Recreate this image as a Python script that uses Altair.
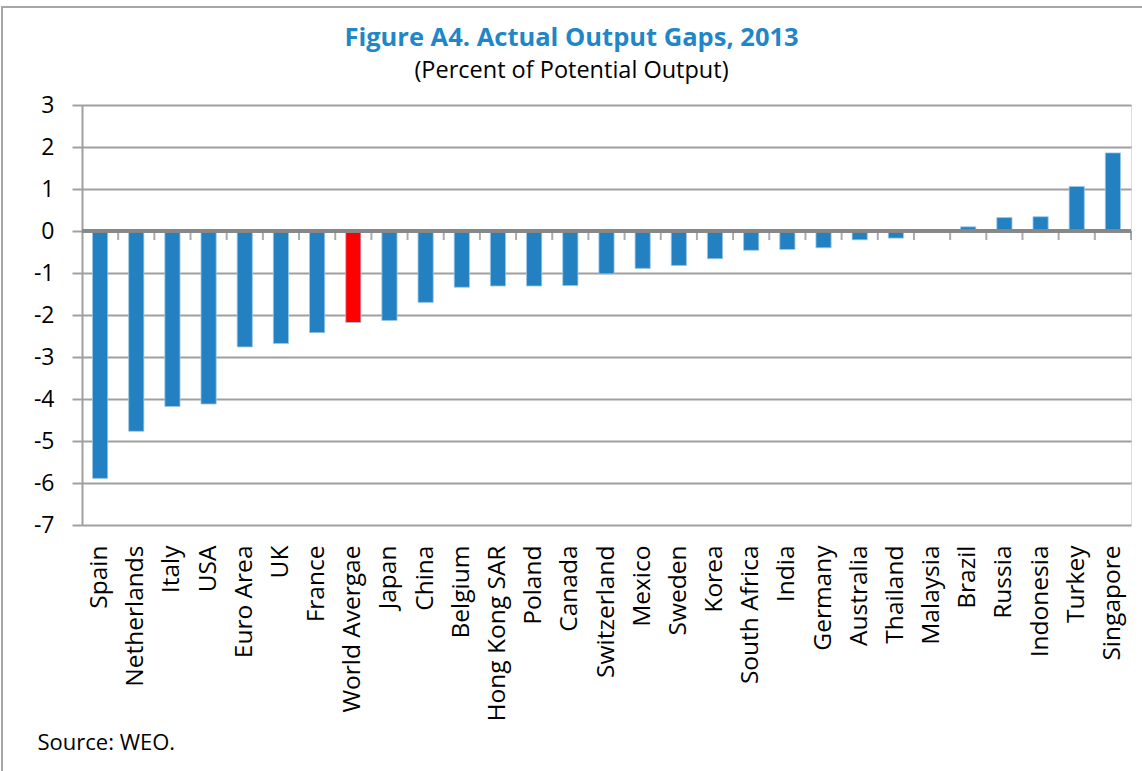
import altair as alt
import pandas as pd

countries = ["Spain", "Netherlands", "Italy", "USA", "Euro Area", "UK", "France",
             "World Avergae", "Japan", "China", "Belgium", "Hong Kong SAR", "Poland",
             "Canada", "Switzerland", "Mexico", "Sweden", "Korea", "South Africa",
             "India", "Germany", "Australia", "Thailand", "Malaysia", "Brazil",
             "Russia", "Indonesia", "Turkey", "Singapore"]
values = [-5.89, -4.77, -4.18, -4.12, -2.76, -2.68, -2.42,
          -2.18, -2.13, -1.70, -1.34, -1.31, -1.31,
          -1.30, -1.02, -0.89, -0.82, -0.66, -0.46,
          -0.44, -0.40, -0.21, -0.17, 0.0, 0.10,
          0.32, 0.34, 1.06, 1.86]
highlight = "World Avergae"
y_ticks = [3, 2, 1, 0, -1, -2, -3, -4, -5, -6, -7]

df = pd.DataFrame({"country": countries, "value": values})

FONT = "Open Sans"
GRID = "#a0a0a0"
W, H = 1049, 420
step = W / len(countries)

x_enc = alt.X("country:N", sort=countries,
              scale=alt.Scale(paddingInner=0.58, paddingOuter=0.29),
              axis=alt.Axis(title="Source: WEO.", labelAngle=-90, labelAlign="right",
                            labelBaseline="middle", labelPadding=20, labelFontSize=24.5,
                            labelColor="#000", labelFont=FONT, ticks=False, domain=False,
                            labelOverlap=False,
                            titleFont=FONT, titleFontSize=22, titleFontWeight="normal",
                            titleColor="#000", titleAnchor="start", titleAlign="left",
                            titleX=-45, titleY=224, titleBaseline="alphabetic"))

y_enc = alt.Y("value:Q", scale=alt.Scale(domain=[-7, 3], nice=False),
              axis=alt.Axis(title=None, values=y_ticks, labelExpr="'' + datum.value",
                            grid=True,
                            gridColor=GRID, gridWidth=2, tickColor=GRID, tickWidth=2,
                            tickSize=10, domainColor=GRID, domainWidth=2,
                            labelFontSize=23, labelFont=FONT, labelColor="#000",
                            labelPadding=18))

bars = alt.Chart(df).mark_bar(stroke="#9cc8e6", strokeWidth=0.8).encode(
    x=x_enc,
    y=y_enc,
    y2=alt.datum(0),
    color=alt.condition(alt.datum.country == highlight, alt.value("#ff0000"),
                        alt.value("#2381c2")),
)

zero = alt.Chart(df).mark_rule(color="#888888", strokeWidth=2.5).encode(y=alt.datum(0))

ticks = alt.Chart(df).mark_tick(color="#888888", thickness=2, size=9,
                                orient="vertical", xOffset=step / 2, yOffset=4.5).encode(
    x=alt.X("country:N", sort=countries), y=alt.datum(0))

border = alt.Chart(df).mark_rect(fill=None, stroke="#a6a6a6", strokeWidth=2).encode(
    x=alt.value(-80), x2=alt.value(W + 30), y=alt.value(-98), y2=alt.value(H + 260))

chart = alt.layer(border, bars, zero, ticks).properties(
    width=W, height=H,
    title=alt.TitleParams(
        text="Figure A4. Actual Output Gaps, 2013",
        subtitle="(Percent of Potential Output)",
        font=FONT, fontSize=25.5, fontWeight="bold", color="#1f87c7",
        subtitleFont=FONT, subtitleFontSize=23.5, subtitleColor="#000",
        subtitlePadding=7, anchor="middle", frame="group", dx=-35, offset=-76),
    autosize=alt.AutoSizeParams(type="none"),
    padding={"left": 82, "top": 105, "right": 11, "bottom": 246},
).configure_view(stroke=None).configure(background="white")

chart.save("out.html", embed_options={"renderer": "svg", "actions": False})
